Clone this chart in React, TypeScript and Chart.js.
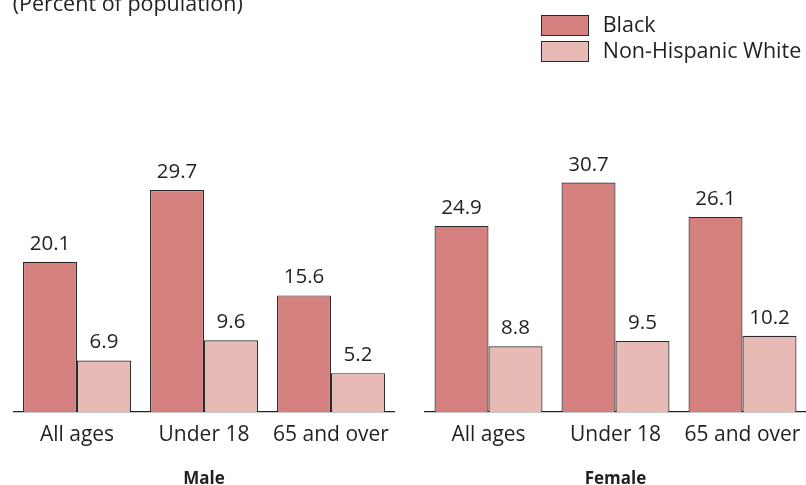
import React, { useEffect, useRef } from "react";
import { Chart, registerables } from "chart.js";

Chart.register(...registerables);

const categories = ["All ages", "Under 18", "65 and over"];
const maleBlack = [20.1, 29.7, 15.6];
const maleWhite = [6.9, 9.6, 5.2];
const femaleBlack = [24.9, 30.7, 26.1];
const femaleWhite = [8.8, 9.5, 10.2];
const seriesNames = ["Black", "Non-Hispanic White"];
const panelTitles = ["Male", "Female"];
const yMax = 40;

const FONT = "'Open Sans', 'DejaVu Sans', sans-serif";
const TEXT = "#231f20";
const DARK = "#d3807e";
const LIGHT = "#e8bab5";
const EDGE = "#2a2a2a";

const valueLabels = {
  id: "valueLabels",
  afterDatasetsDraw(chart: any) {
    const ctx = chart.ctx;
    ctx.save();
    ctx.font = `20.5px ${FONT}`;
    ctx.fillStyle = TEXT;
    ctx.textAlign = "center";
    ctx.textBaseline = "alphabetic";
    chart.data.datasets.forEach((ds: any, i: number) => {
      const meta = chart.getDatasetMeta(i);
      meta.data.forEach((el: any, j: number) => {
        ctx.fillText(Number(ds.data[j]).toFixed(1), el.x, el.y - 12);
      });
    });
    ctx.restore();
  },
};

function Panel(props: { black: number[]; white: number[]; title: string; left: number; padLeft: number; padRight: number }) {
  const ref = useRef<HTMLCanvasElement | null>(null);
  useEffect(() => {
    if (!ref.current) return;
    const chart = new Chart(ref.current, {
      type: "bar",
      data: {
        labels: categories,
        datasets: [
          { label: seriesNames[0], data: props.black, backgroundColor: DARK, borderColor: EDGE, borderWidth: 1.2 },
          { label: seriesNames[1], data: props.white, backgroundColor: LIGHT, borderColor: EDGE, borderWidth: 1.2 },
        ],
      },
      options: {
        responsive: false,
        animation: false,
        devicePixelRatio: 1,
        layout: { padding: { top: 113, bottom: 0, left: props.padLeft, right: props.padRight } },
        datasets: { bar: { categoryPercentage: 0.85, barPercentage: 1 } },
        plugins: { legend: { display: false }, tooltip: { enabled: false }, title: { display: false } },
        scales: {
          y: { display: false, min: 0, max: yMax },
          x: {
            grid: { display: false, drawTicks: false, tickLength: 0 },
            border: { display: true, color: "#222", width: 1.3 },
            ticks: { padding: 0, color: TEXT, font: { family: FONT, size: 21, lineHeight: 2.152 }, maxRotation: 0, autoSkip: false },
            title: {
              display: true,
              text: props.title,
              color: TEXT,
              font: { family: FONT, size: 17, weight: "bold", lineHeight: 0.7 },
              padding: { top: 15.9, bottom: 0 },
            },
          },
        },
      },
      plugins: [valueLabels],
    });
    return () => chart.destroy();
  }, []);
  return (
    <canvas
      ref={ref}
      width={403}
      height={485}
      style={{ position: "absolute", left: props.left, top: 0, width: 403, height: 485 }}
    />
  );
}

const textStyle: React.CSSProperties = {
  position: "absolute",
  fontFamily: FONT,
  fontSize: 21.5,
  lineHeight: "20px",
  color: TEXT,
  whiteSpace: "nowrap",
};

export default function App() {
  return (
    <div style={{ position: "absolute", left: 0, top: 0, width: 806, height: 485, overflow: "hidden", background: "#fff" }}>
      <Panel black={maleBlack} white={maleWhite} title={panelTitles[0]} left={0} padLeft={13.5} padRight={8.5} />
      <Panel black={femaleBlack} white={femaleWhite} title={panelTitles[1]} left={403} padLeft={22} padRight={0} />
      <div style={{ ...textStyle, left: 12.7, top: -7.5 }}>(Percent of population)</div>
      <div style={{ position: "absolute", left: 541, top: 14.7, width: 46, height: 19.3, background: DARK, border: `1px solid ${EDGE}` }} />
      <div style={{ position: "absolute", left: 541, top: 41, width: 46, height: 19.3, background: LIGHT, border: `1px solid ${EDGE}` }} />
      <div style={{ ...textStyle, left: 602.7, top: 14.2 }}>{seriesNames[0]}</div>
      <div style={{ ...textStyle, left: 602.7, top: 39.8 }}>{seriesNames[1]}</div>
    </div>
  );
}
